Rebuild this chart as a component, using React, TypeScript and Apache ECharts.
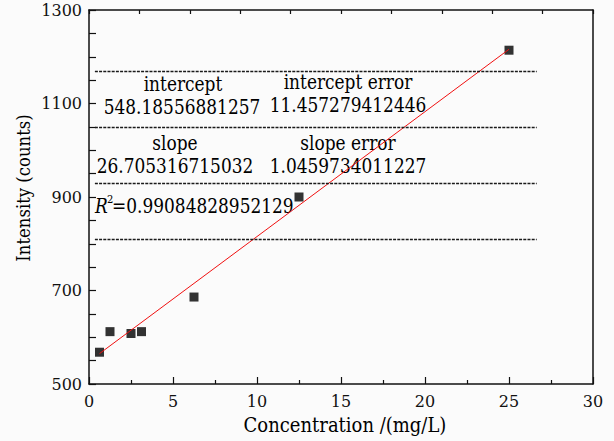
import React, { useEffect, useRef } from "react";
import * as echarts from "echarts";

const concentration = [0.625, 1.25, 2.5, 3.125, 6.25, 12.5, 25];
const intensity = [568, 612, 608, 612, 686, 900, 1214];
const fitX = [0.625, 25];
const fitY = [565, 1216];
const tableRuleY = [1170, 1050, 930, 810];
const tableRuleX = [0.35, 26.65];
const xTicks = { min: 0, max: 30, interval: 5 };
const yTicks = { min: 500, max: 1300, interval: 200 };
const interceptText = "548.18556881257";
const interceptErrText = "11.457279412446";
const slopeText = "26.705316715032";
const slopeErrText = "1.0459734011227";
const r2Text = "=0.99084828952129";

const FONT = '"DejaVu Serif", serif';

export default function App() {
  const ref = useRef<HTMLDivElement>(null);
  useEffect(() => {
    document.body.style.margin = "0";
    if (!ref.current) return;
    const chart = echarts.init(ref.current, null, { renderer: "svg" });
    const txt = (text: string, x: number, y: number, size = 17, extra: any = {}, sy = 1.15) => ({
      type: "text",
      x,
      y,
      scaleY: sy,
      style: {
        text,
        fill: "#000",
        font: `${size}px ${FONT}`,
        align: "center",
        verticalAlign: "middle",
        ...extra,
      },
    });
    chart.setOption({
      animation: false,
      backgroundColor: "#fbfbfb",
      grid: { left: 89, right: 21, top: 10, bottom: 57 },
      xAxis: [
        {
          type: "value",
          min: xTicks.min,
          max: xTicks.max,
          interval: xTicks.interval,
          position: "bottom",
          axisLine: { show: true, onZero: false, lineStyle: { color: "#111", width: 1.5 } },
          axisTick: { show: true, inside: true, length: 7, lineStyle: { color: "#111", width: 1.2 } },
          minorTick: { show: true, splitNumber: 2, length: 4, lineStyle: { color: "#111", width: 1.2 } },
          splitLine: { show: false },
          axisLabel: { color: "#111", fontFamily: FONT, fontSize: 16, margin: 9 },
        },
        {
          type: "value",
          min: 0,
          max: 30,
          interval: 3,
          position: "top",
          axisLine: { show: true, onZero: false, lineStyle: { color: "#111", width: 1.5 } },
          axisTick: { show: true, inside: true, length: 4, lineStyle: { color: "#111", width: 1.2 } },
          splitLine: { show: false },
          axisLabel: { show: false },
        },
      ],
      yAxis: [
        {
          type: "value",
          min: yTicks.min,
          max: yTicks.max,
          interval: yTicks.interval,
          axisLine: { show: true, onZero: false, lineStyle: { color: "#111", width: 1.5 } },
          axisTick: { show: true, inside: true, length: 7, lineStyle: { color: "#111", width: 1.2 } },
          minorTick: { show: true, splitNumber: 4, length: 7, lineStyle: { color: "#111", width: 1.2 } },
          splitLine: { show: false },
          axisLabel: {
            color: "#111",
            fontFamily: FONT,
            fontSize: 16,
            margin: 7,
            formatter: (v: number) => String(v),
          },
        },
        {
          type: "value",
          min: yTicks.min,
          max: yTicks.max,
          position: "right",
          axisLine: { show: true, onZero: false, lineStyle: { color: "#111", width: 1.5 } },
          axisTick: { show: false },
          splitLine: { show: false },
          axisLabel: { show: false },
        },
      ],
      series: [
        {
          type: "scatter",
          symbol: "rect",
          symbolSize: 9,
          itemStyle: { color: "#000" },
          data: concentration.map((c, i) => [c, intensity[i]]),
          z: 3,
        },
        {
          type: "line",
          data: fitX.map((x, i) => [x, fitY[i]]),
          symbol: "none",
          lineStyle: { color: "#f01010", width: 1 },
          z: 4,
          markLine: {
            silent: true,
            symbol: "none",
            label: { show: false },
            lineStyle: { color: "#1a1a1a", width: 1.4, type: [3, 1.2] },
            data: tableRuleY.map((y) => [
              { coord: [tableRuleX[0], y] },
              { coord: [tableRuleX[1], y] },
            ]),
          },
        },
      ],
      graphic: [
        txt("intercept", 183, 84),
        txt(interceptText, 182, 107),
        txt("intercept error", 348, 82),
        txt(interceptErrText, 348, 105),
        txt("slope", 175, 143),
        txt("slope error", 348, 143),
        txt(slopeText, 175, 166),
        txt(slopeErrText, 348, 166),
        txt("R", 95, 206, 17, { align: "left", font: `italic 17px ${FONT}` }),
        txt("2", 107, 199, 10, { align: "left" }),
        txt(r2Text, 112, 206, 17, { align: "left" }),
        txt("Concentration /(mg/L)", 345, 425, 18, {}, 1.1),
        {
          type: "text",
          x: 24,
          y: 188,
          rotation: Math.PI / 2,
          scaleY: 1.1,
          style: {
            text: "Intensity (counts)",
            fill: "#000",
            font: `16.5px ${FONT}`,
            align: "center",
            verticalAlign: "middle",
          },
        },
      ],
    });
    return () => chart.dispose();
  }, []);
  return <div ref={ref} style={{ width: 614, height: 441 }} />;
}
